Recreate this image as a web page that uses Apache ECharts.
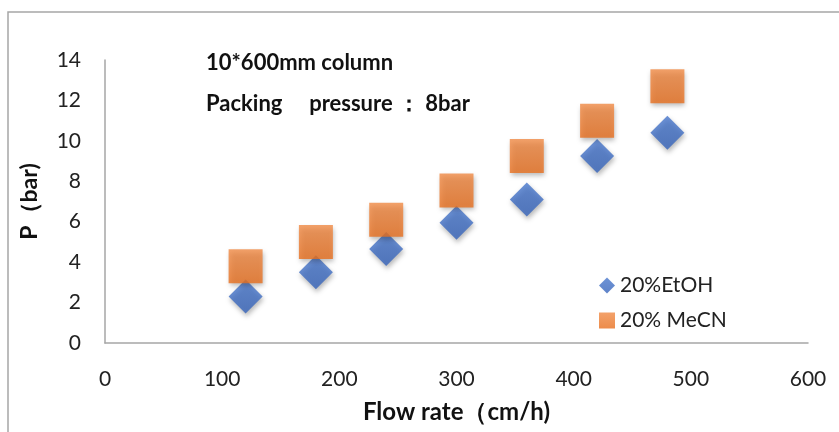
<!DOCTYPE html>
<html><head><meta charset="utf-8">
<script src="https://cdn.jsdelivr.net/npm/echarts@6/dist/echarts.min.js"></script>
<style>html,body{margin:0;padding:0;background:#fff}#c{width:839px;height:432px}</style>
</head><body><div id="c"></div>
<script>
const flowRates = [120, 180, 240, 300, 360, 420, 480];
const etohP = [2.3, 3.5, 4.65, 5.95, 7.1, 9.25, 10.4];
const mecnP = [3.8, 5.0, 6.1, 7.55, 9.25, 11.0, 12.7];
const seriesNames = ['20%EtOH', '20% MeCN'];
const noteLines = ['10*600mm column', 'Packing     pressure ： 8bar'];
const xTitle = 'Flow rate（cm/h)';
const yTitle = 'P（bar)';

const font = 'Lato, "Liberation Sans", sans-serif';
const chart = echarts.init(document.getElementById('c'));
const shadow = {shadowBlur: 5, shadowOffsetX: 1, shadowOffsetY: 3, shadowColor: 'rgba(0,0,0,0.35)'};
chart.setOption({
  animation: false,
  grid: {left: 105, right: 31, top: 60, bottom: 89},
  xAxis: {
    type: 'value', min: 0, max: 600, interval: 100,
    axisLine: {show: true, lineStyle: {color: '#A6A6A6', width: 1.5}},
    axisTick: {show: false}, splitLine: {show: false},
    axisLabel: {color: '#222', fontSize: 21, fontFamily: font, margin: 26},
    name: xTitle, nameLocation: 'middle', nameGap: 57,
    nameTextStyle: {fontSize: 24, fontWeight: 'bold', color: '#111', fontFamily: font}
  },
  yAxis: {
    type: 'value', min: 0, max: 14, interval: 2,
    axisLine: {show: true, lineStyle: {color: '#A6A6A6', width: 1.5}},
    axisTick: {show: false}, splitLine: {show: false},
    axisLabel: {color: '#222', fontSize: 21, fontFamily: font, margin: 24},
    name: yTitle, nameLocation: 'middle', nameGap: 64, nameRotate: 90,
    nameTextStyle: {fontSize: 23, fontWeight: 'bold', color: '#111', fontFamily: font}
  },
  legend: {
    orient: 'vertical', left: 594, top: 270, itemGap: 14, itemWidth: 16, itemHeight: 16,
    textStyle: {fontSize: 21, color: '#222', fontFamily: font},
    data: [{name: seriesNames[0], icon: 'diamond'}, {name: seriesNames[1], icon: 'rect'}]
  },
  graphic: [
    {type: 'polyline', silent: true, shape: {points: [[8, 432], [8, 12], [839, 12]]}, style: {stroke: '#A6A6A6', lineWidth: 1.5, fill: null}},
    {type: 'text', left: 206, top: 52, style: {text: noteLines[0], font: 'bold 22px ' + font, fill: '#111'}},
    {type: 'text', left: 206, top: 93, style: {text: noteLines[1], font: 'bold 22px ' + font, fill: '#111'}}
  ],
  series: [
    {name: seriesNames[0], type: 'scatter', symbol: 'diamond', symbolSize: 34,
     itemStyle: Object.assign({color: new echarts.graphic.LinearGradient(0,0,0,1,[{offset:0,color:'#4877CC'},{offset:1,color:'#3563BA'}])}, shadow),
     data: flowRates.map((x, i) => [x, etohP[i]])},
    {name: seriesNames[1], type: 'scatter', symbol: 'rect', symbolSize: 34,
     itemStyle: Object.assign({color: new echarts.graphic.LinearGradient(0,0,0,1,[{offset:0,color:'#F08A45'},{offset:1,color:'#E86F1E'}])}, shadow),
     data: flowRates.map((x, i) => [x, mecnP[i]])}
  ]
});
</script></body></html>
